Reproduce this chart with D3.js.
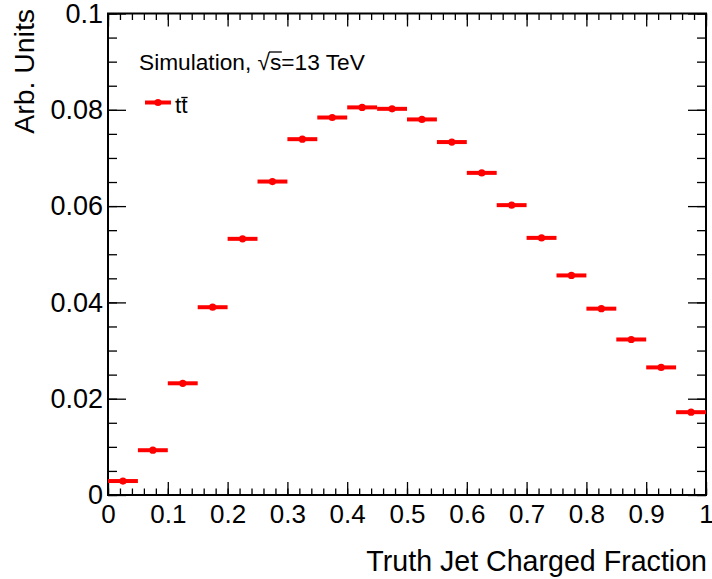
<!DOCTYPE html>
<html>
<head>
<meta charset="utf-8">
<script src="https://cdn.jsdelivr.net/npm/d3@7"></script>
<style>
  html, body { margin: 0; padding: 0; background: #fff; }
  svg { display: block; font-family: "Liberation Sans", Arial, Helvetica, sans-serif; }
</style>
</head>
<body>
<svg id="chart" width="712" height="579"></svg>
<script>
// ---- data ----
const binLow = [0,0.05,0.1,0.15,0.2,0.25,0.3,0.35,0.4,0.45,0.5,0.55,0.6,0.65,0.7,0.75,0.8,0.85,0.9,0.95];
const binWidth = 0.05;
const ttbarValues = [0.0029,0.0093,0.0232,0.0390,0.0532,0.0651,0.0739,0.0784,0.0805,0.0802,
                     0.0780,0.0733,0.0669,0.0602,0.0534,0.0456,0.0387,0.0323,0.0265,0.0172];
const xTickValues = [0,0.1,0.2,0.3,0.4,0.5,0.6,0.7,0.8,0.9,1];
const xTickLabels = ["0","0.1","0.2","0.3","0.4","0.5","0.6","0.7","0.8","0.9","1"];
const yTickValues = [0,0.02,0.04,0.06,0.08,0.1];
const yTickLabels = ["0","0.02","0.04","0.06","0.08","0.1"];
const xTitle = "Truth Jet Charged Fraction";
const yTitle = "Arb. Units";
const seriesName = "tt";

// ---- layout ----
const L = 108, R = 706, T = 13.5, B = 495;
const svg = d3.select("#chart");
const x = d3.scaleLinear().domain([0, 1]).range([L, R]);
const y = d3.scaleLinear().domain([0, 0.1]).range([B, T]);
const red = "#ff0000";

const xMinor = d3.range(0, 1.0001, 0.02).map(v => +v.toFixed(2));
const yMinor = d3.range(0, 0.1001, 0.005).map(v => +v.toFixed(3));

function styleAxis(g) {
  g.select(".domain").remove();
  g.selectAll(".tick line").attr("stroke", "#000").attr("stroke-width", 1.3);
}

// bottom axis minor
svg.append("g").attr("transform", `translate(0,${B})`)
  .call(d3.axisBottom(x).tickValues(xMinor).tickSize(-6.5).tickFormat(""))
  .call(styleAxis);
// bottom axis major with labels
const gxb = svg.append("g").attr("transform", `translate(0,${B})`)
  .call(d3.axisBottom(x).tickValues(xTickValues).tickSize(-13).tickPadding(10)
        .tickFormat((d, i) => xTickLabels[i]))
  .call(styleAxis);
gxb.selectAll("text").attr("font-size", 26).attr("fill", "#000")
  .attr("font-family", "'Liberation Sans', Arial, sans-serif");

// top axis
svg.append("g").attr("transform", `translate(0,${T})`)
  .call(d3.axisTop(x).tickValues(xMinor).tickSize(-6.5).tickFormat(""))
  .call(styleAxis);
svg.append("g").attr("transform", `translate(0,${T})`)
  .call(d3.axisTop(x).tickValues(xTickValues).tickSize(-13).tickFormat(""))
  .call(styleAxis);

// left axis
svg.append("g").attr("transform", `translate(${L},0)`)
  .call(d3.axisLeft(y).tickValues(yMinor).tickSize(-9).tickFormat(""))
  .call(styleAxis);
const gyl = svg.append("g").attr("transform", `translate(${L},0)`)
  .call(d3.axisLeft(y).tickValues(yTickValues).tickSize(-18).tickPadding(5)
        .tickFormat((d, i) => yTickLabels[i]))
  .call(styleAxis);
gyl.selectAll("text").attr("font-size", 27).attr("fill", "#000")
  .attr("font-family", "'Liberation Sans', Arial, sans-serif");

// right axis
svg.append("g").attr("transform", `translate(${R},0)`)
  .call(d3.axisRight(y).tickValues(yMinor).tickSize(-9).tickFormat(""))
  .call(styleAxis);
svg.append("g").attr("transform", `translate(${R},0)`)
  .call(d3.axisRight(y).tickValues(yTickValues).tickSize(-18).tickFormat(""))
  .call(styleAxis);

// frame
svg.append("rect").attr("x", L).attr("y", T).attr("width", R - L).attr("height", B - T)
  .attr("fill", "none").attr("stroke", "#000").attr("stroke-width", 2);

// data
const pts = binLow.map((lo, i) => ({lo, hi: lo + binWidth, c: lo + binWidth / 2, v: ttbarValues[i]}));
const gd = svg.append("g");
gd.selectAll("line.eb").data(pts).join("line").attr("class", "eb")
  .attr("x1", d => x(d.lo)).attr("x2", d => x(d.hi))
  .attr("y1", d => y(d.v)).attr("y2", d => y(d.v))
  .attr("stroke", red).attr("stroke-width", 4);
gd.selectAll("circle").data(pts).join("circle")
  .attr("cx", d => x(d.c)).attr("cy", d => y(d.v)).attr("r", 3.6).attr("fill", red);

// axis titles
svg.append("text").attr("x", 707).attr("y", 571).attr("text-anchor", "end")
  .attr("font-size", 28.6).attr("fill", "#000").text(xTitle);
svg.append("text").attr("transform", "translate(34,9) rotate(-90)").attr("text-anchor", "end")
  .attr("font-size", 28.4).attr("fill", "#000").text(yTitle);

// legend
const lab = svg.append("text").attr("x", 139).attr("y", 70).attr("font-size", 22.7).attr("fill", "#000");
lab.append("tspan").text("Simulation, ");
lab.append("tspan").text("√");
lab.append("tspan").text("s");
lab.append("tspan").text("=13 TeV");
// overline over s
{
  const node = lab.node();
  const pre = "Simulation, √".length;
  const start = node.getStartPositionOfChar(pre);
  const end = node.getEndPositionOfChar(pre);
  svg.append("line").attr("x1", start.x - 1).attr("x2", end.x + 0.5)
    .attr("y1", 70 - 18).attr("y2", 70 - 18).attr("stroke", "#000").attr("stroke-width", 1.3);
}

svg.append("line").attr("x1", 145).attr("x2", 171).attr("y1", 102.5).attr("y2", 102.5)
  .attr("stroke", red).attr("stroke-width", 4);
svg.append("circle").attr("cx", 158).attr("cy", 102.5).attr("r", 3.6).attr("fill", red);
const lt = svg.append("text").attr("x", 175).attr("y", 113).attr("font-size", 22.7).attr("fill", "#000").text(seriesName);
{
  const node = lt.node();
  const s = node.getStartPositionOfChar(1), e = node.getEndPositionOfChar(1);
  svg.append("line").attr("x1", s.x).attr("x2", e.x).attr("y1", 97.5).attr("y2", 97.5)
    .attr("stroke", "#000").attr("stroke-width", 1.3);
}
</script>
</body>
</html>
